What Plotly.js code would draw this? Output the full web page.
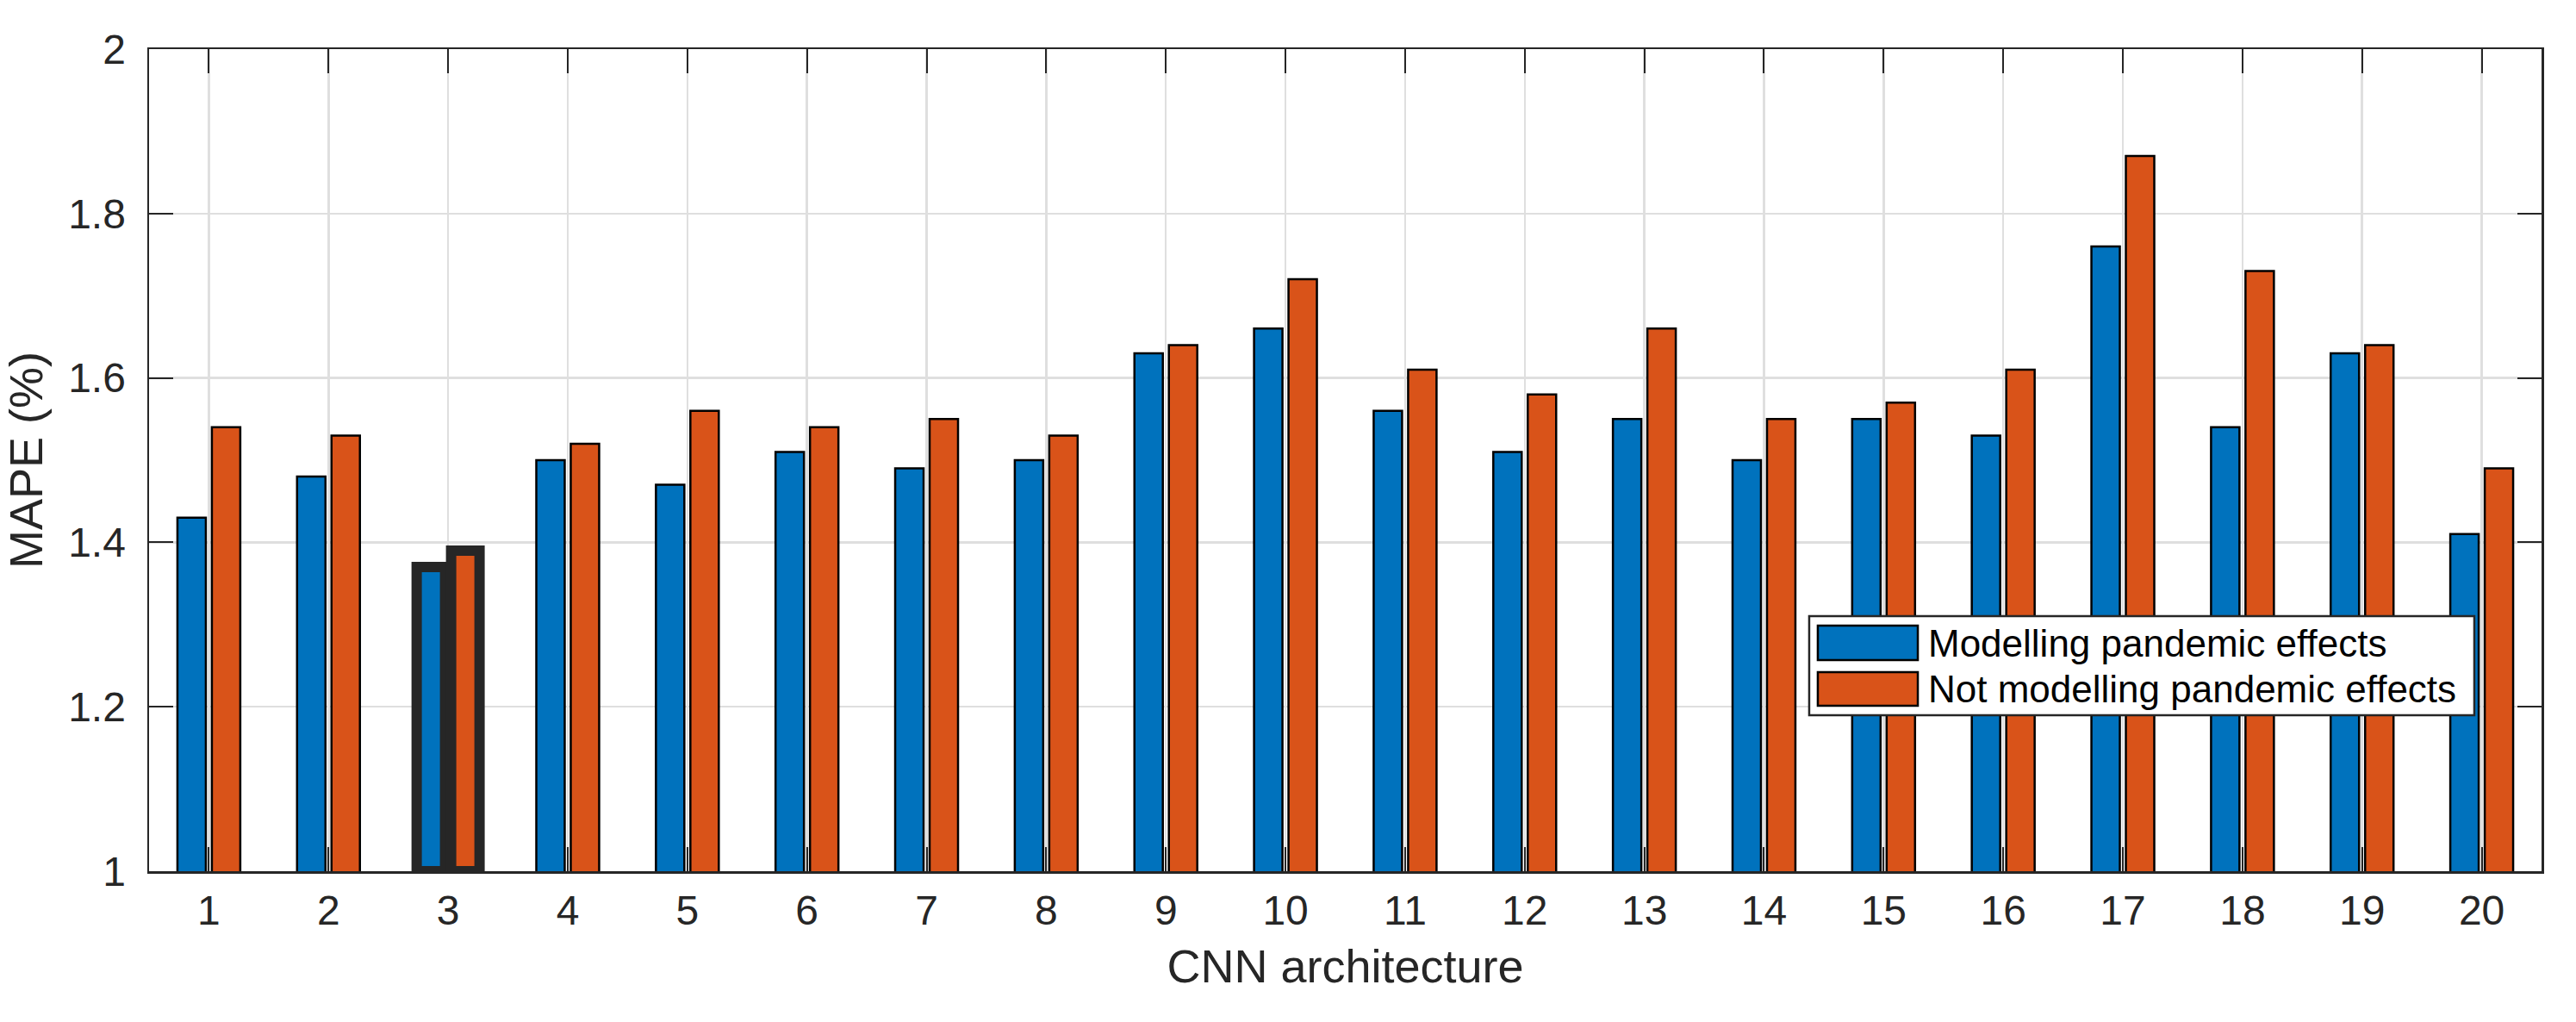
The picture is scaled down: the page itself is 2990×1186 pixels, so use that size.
<!DOCTYPE html>
<html>
<head>
<meta charset="utf-8">
<script src="https://cdn.plot.ly/plotly-3.0.1.min.js"></script>
<style>html,body{margin:0;padding:0;background:#fff;}#chart{width:2990px;height:1186px;}</style>
</head>
<body>
<div id="chart"></div>
<script>
// ---- data ----
const architectures = [1,2,3,4,5,6,7,8,9,10,11,12,13,14,15,16,17,18,19,20];
const tickLabels = ["1","2","3","4","5","6","7","8","9","10","11","12","13","14","15","16","17","18","19","20"];
const seriesNames = ["Modelling pandemic effects", "Not modelling pandemic effects"];
const modellingPandemic = [1.43,1.48,1.37,1.50,1.47,1.51,1.49,1.50,1.63,1.66,1.56,1.51,1.55,1.50,1.55,1.53,1.76,1.54,1.63,1.41];
const notModellingPandemic = [1.54,1.53,1.39,1.52,1.56,1.54,1.55,1.53,1.64,1.72,1.61,1.58,1.66,1.55,1.57,1.61,1.87,1.73,1.64,1.49];
const highlighted = [3];
const yTickVals = [1,1.2,1.4,1.6,1.8,2];
const yTickText = ["1","1.2","1.4","1.6","1.8","2"];

// ---- style ----
const colors = ["#0072BD", "#D95319"];
const dark = "#262626";
const font = "Arial, 'Liberation Sans', Helvetica, sans-serif";
const bargap = 0.424, bargroupgap = 0.175;
const yMin = 1, yMax = 2;

const traces = [modellingPandemic, notModellingPandemic].map((vals, k) => ({
  type: "bar",
  x: architectures,
  y: vals,
  name: seriesNames[k],
  marker: {color: colors[k], line: {color: "#000000", width: 2.5}},
  showlegend: false,
  hoverinfo: "x+y"
}));

// highlight rectangles around the chosen architecture, derived from bar geometry
const slot = (1 - bargap) / 2;
const halfW = slot * (1 - bargroupgap) / 2;
const shapes = [];
highlighted.forEach(idx => {
  const i = architectures.indexOf(idx);
  [modellingPandemic, notModellingPandemic].forEach((vals, k) => {
    const c = idx + (k === 0 ? -slot / 2 : slot / 2);
    shapes.push({type: "rect", xref: "x", yref: "y", layer: "above",
      x0: c - halfW, x1: c + halfW, y0: yMin, y1: vals[i],
      line: {color: dark, width: 12}, fillcolor: "rgba(0,0,0,0)"});
  });
});

// legend (drawn as a box with large swatches, like the original)
const lg = {x0: 0.6939, x1: 0.9719, y0: 0.1897, y1: 0.3103,
  sx0: 0.6975, sx1: 0.7393, rows: [[0.2568, 0.2987], [0.2013, 0.2421]], tx: 0.7429};
shapes.push({type: "rect", xref: "paper", yref: "paper", layer: "above",
  x0: lg.x0, x1: lg.x1, y0: lg.y0, y1: lg.y1, fillcolor: "#ffffff",
  line: {color: dark, width: 2.5}});
const annotations = [];
seriesNames.forEach((name, k) => {
  const r = lg.rows[k];
  shapes.push({type: "rect", xref: "paper", yref: "paper", layer: "above",
    x0: lg.sx0, x1: lg.sx1, y0: r[0], y1: r[1], fillcolor: colors[k],
    line: {color: "#000000", width: 2.5}});
  annotations.push({xref: "paper", yref: "paper", x: lg.tx, y: (r[0] + r[1]) / 2,
    xanchor: "left", yanchor: "middle", showarrow: false, text: name,
    font: {family: font, size: 44, color: "#000000"}});
});

const axisCommon = {
  showline: true, linecolor: dark, linewidth: 2.5, mirror: "ticks",
  ticks: "inside", ticklen: 28, tickwidth: 2, tickcolor: dark,
  showgrid: true, gridcolor: "#dfdfdf", gridwidth: 2.5, zeroline: false,
  tickfont: {family: font, size: 48, color: dark}
};

const layout = {
  width: 2990, height: 1186,
  margin: {l: 173, r: 40, t: 57, b: 175},
  paper_bgcolor: "#ffffff", plot_bgcolor: "#ffffff",
  barmode: "group", bargap: bargap, bargroupgap: bargroupgap,
  showlegend: false,
  font: {family: font, color: dark},
  xaxis: Object.assign({}, axisCommon, {
    range: [0.5, 20.5], tickmode: "array", tickvals: architectures, ticktext: tickLabels,
    ticklabelstandoff: 2,
    title: {text: "CNN architecture", font: {family: font, size: 54, color: dark}, standoff: 20}
  }),
  yaxis: Object.assign({}, axisCommon, {
    range: [yMin, yMax], tickmode: "array", tickvals: yTickVals, ticktext: yTickText,
    ticklabelstandoff: 15,
    title: {text: "MAPE (%)", font: {family: font, size: 54, color: dark}, standoff: 18}
  }),
  shapes: shapes,
  annotations: annotations
};

Plotly.newPlot("chart", traces, layout, {displayModeBar: false, staticPlot: true});
</script>
</body>
</html>
